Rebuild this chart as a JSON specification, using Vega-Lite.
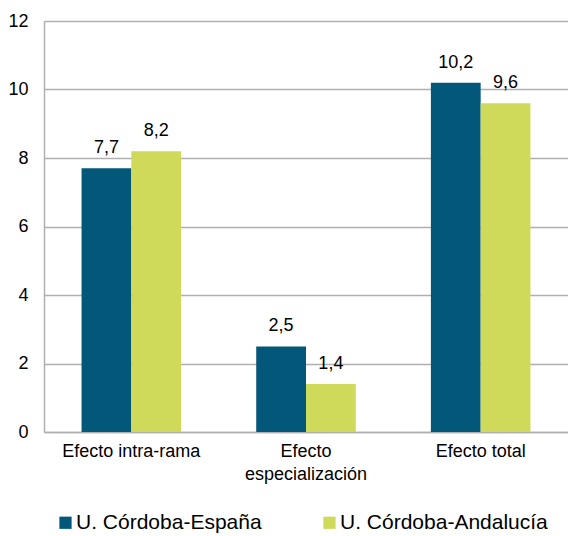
{
  "$schema": "https://vega.github.io/schema/vega-lite/v6.json",
  "autosize": "none",
  "width": 524,
  "height": 411,
  "padding": {"left": 44, "top": 21, "right": 0, "bottom": 104},
  "config": {
    "view": {"stroke": null},
    "font": "Liberation Sans",
    "locale": {"number": {"decimal": ",", "thousands": ".", "grouping": [3], "currency": ["", " €"]}}
  },
  "data": {
    "values": [
      {"efecto": "Efecto intra-rama", "serie": "U. Córdoba-España", "valor": 7.7},
      {"efecto": "Efecto intra-rama", "serie": "U. Córdoba-Andalucía", "valor": 8.2},
      {"efecto": "Efecto especialización", "serie": "U. Córdoba-España", "valor": 2.5},
      {"efecto": "Efecto especialización", "serie": "U. Córdoba-Andalucía", "valor": 1.4},
      {"efecto": "Efecto total", "serie": "U. Córdoba-España", "valor": 10.2},
      {"efecto": "Efecto total", "serie": "U. Córdoba-Andalucía", "valor": 9.6}
    ]
  },
  "encoding": {
    "x": {
      "field": "efecto", "type": "nominal", "sort": null,
      "scale": {"paddingInner": 0.43, "paddingOuter": 0.215},
      "axis": {
        "title": null, "labelAngle": 0, "ticks": false, "grid": false,
        "domainColor": "#b0b0b0", "domainWidth": 1.5,
        "labelFontSize": 18, "labelColor": "#000000", "labelPadding": 10,
        "labelLimit": 300, "labelLineHeight": 23,
        "labelExpr": "datum.label == 'Efecto especialización' ? ['Efecto', 'especialización'] : datum.label"
      }
    },
    "xOffset": {"field": "serie", "type": "nominal", "sort": ["U. Córdoba-España", "U. Córdoba-Andalucía"], "scale": {"paddingInner": 0, "paddingOuter": 0}},
    "y": {
      "field": "valor", "type": "quantitative",
      "scale": {"domain": [0, 12], "nice": false},
      "axis": {
        "title": null, "values": [0, 2, 4, 6, 8, 10, 12], "ticks": false,
        "domainColor": "#b0b0b0", "domainWidth": 1.5,
        "gridColor": "#b0b0b0", "gridWidth": 1.5,
        "labelFontSize": 18, "labelColor": "#000000", "labelPadding": 16, "format": "d"
      }
    }
  },
  "layer": [
    {
      "mark": {"type": "bar"},
      "encoding": {
        "color": {
          "field": "serie", "type": "nominal",
          "sort": ["U. Córdoba-España", "U. Córdoba-Andalucía"],
          "scale": {"domain": ["U. Córdoba-España", "U. Córdoba-Andalucía"], "range": ["#03587a", "#cfda5b"]},
          "legend": {
            "title": null, "orient": "none", "direction": "horizontal",
            "legendX": 11, "legendY": 491, "symbolType": "square", "symbolSize": 150,
            "symbolStrokeWidth": 0, "labelFontSize": 21, "labelColor": "#000000",
            "labelOffset": 0, "columnPadding": 57, "labelLimit": 400, "padding": 0
          }
        }
      }
    },
    {
      "mark": {"type": "text", "baseline": "alphabetic", "dy": -15, "fontSize": 18, "color": "#000000"},
      "encoding": {
        "text": {"field": "valor", "type": "quantitative", "format": ".1f"}
      }
    }
  ]
}
